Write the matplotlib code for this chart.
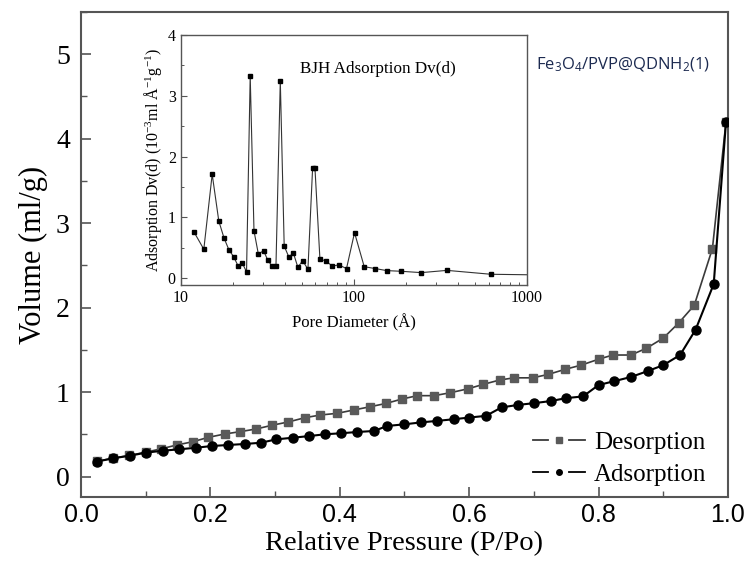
import numpy as np
import matplotlib
matplotlib.use("Agg")
import matplotlib.pyplot as plt
from matplotlib.lines import Line2D
from matplotlib.legend_handler import HandlerBase
from matplotlib.ticker import MultipleLocator, LogLocator, NullFormatter, FixedLocator

# isotherm data (relative pressure, volume ml/g)
ads_p = [0.024, 0.050, 0.076, 0.100, 0.127, 0.152, 0.178, 0.202, 0.227, 0.253,
         0.278, 0.302, 0.327, 0.353, 0.377, 0.402, 0.427, 0.453, 0.473, 0.500,
         0.526, 0.550, 0.576, 0.600, 0.626, 0.650, 0.676, 0.700, 0.726, 0.750,
         0.776, 0.800, 0.824, 0.850, 0.876, 0.900, 0.926, 0.950, 0.978, 0.997]
ads_v = [0.178, 0.218, 0.249, 0.284, 0.308, 0.324, 0.343, 0.363, 0.375, 0.387,
         0.402, 0.442, 0.461, 0.481, 0.502, 0.514, 0.529, 0.541, 0.600, 0.620,
         0.643, 0.660, 0.680, 0.700, 0.720, 0.820, 0.850, 0.870, 0.895, 0.930,
         0.950, 1.085, 1.130, 1.180, 1.250, 1.320, 1.440, 1.740, 2.280, 4.200]

des_p = [0.024, 0.050, 0.075, 0.100, 0.124, 0.148, 0.173, 0.197, 0.222, 0.246,
         0.271, 0.296, 0.320, 0.346, 0.370, 0.396, 0.422, 0.447, 0.472, 0.496,
         0.520, 0.546, 0.571, 0.598, 0.622, 0.647, 0.669, 0.698, 0.722, 0.748,
         0.773, 0.800, 0.822, 0.850, 0.874, 0.900, 0.924, 0.948, 0.976, 0.997]
des_v = [0.180, 0.220, 0.252, 0.290, 0.330, 0.375, 0.414, 0.466, 0.505, 0.533,
         0.565, 0.610, 0.647, 0.698, 0.730, 0.750, 0.790, 0.828, 0.868, 0.919,
         0.959, 0.959, 0.994, 1.040, 1.093, 1.144, 1.170, 1.170, 1.210, 1.270,
         1.320, 1.390, 1.440, 1.440, 1.520, 1.640, 1.820, 2.030, 2.700, 4.200]

# BJH pore size distribution
pore_d = [11.9, 13.6, 15.2, 16.6, 17.8, 19.0, 20.2, 21.4, 22.7, 24.0,
          25.2, 26.5, 28.1, 30.1, 31.8, 33.5, 35.5, 37.6, 39.6, 42.2,
          44.7, 47.5, 50.6, 54.3, 57.8, 59.6, 63.7, 68.7, 75.0, 81.9,
          90.7, 100.9, 114.8, 132.8, 155, 188, 245, 345, 619, 1000]
pore_dv = [0.767, 0.477, 1.71, 0.94, 0.66, 0.466, 0.356, 0.21, 0.25, 0.104,
           3.33, 0.78, 0.395, 0.455, 0.30, 0.21, 0.21, 3.25, 0.53, 0.345,
           0.42, 0.18, 0.29, 0.148, 1.82, 1.82, 0.31, 0.29, 0.20, 0.22,
           0.16, 0.75, 0.19, 0.16, 0.126, 0.115, 0.093, 0.13, 0.066, 0.058]

serif = "Liberation Serif"
sans = "Liberation Sans"
frame_col = "#555555"


# origin style legend key: line - marker - line with gaps
class GapHandler(HandlerBase):
    def create_artists(self, legend, orig, xd, yd, width, height, fontsize, trans):
        y = height / 2 - yd
        x0 = -xd
        seg = width * 0.3
        left = Line2D([x0, x0 + seg], [y, y], color=orig.get_color(), lw=1.3)
        right = Line2D([x0 + width - seg, x0 + width], [y, y], color=orig.get_color(), lw=1.3)
        mk = Line2D([x0 + width / 2], [y], marker=orig.get_marker(), ms=4,
                    mfc=orig.get_markerfacecolor(), mec=orig.get_markeredgecolor(), ls="none")
        for a in (left, right, mk):
            a.set_transform(trans)
        return [left, right, mk]


fig = plt.figure(figsize=(7.47, 5.67), dpi=100)
ax = fig.add_axes([0.1084, 0.1235, 0.8661, 0.8554])

l_des, = ax.plot(des_p, des_v, color="#3a3a3a", lw=1.2, marker="s", ms=5.5,
                 mfc="#5a5a5a", mec="#5a5a5a", label="Desorption", zorder=3)
l_ads, = ax.plot(ads_p, ads_v, color="black", lw=1.5, marker="o", ms=6.5,
                 mfc="black", mec="black", label="Adsorption", zorder=4)

ax.set_xlim(0, 1.0)
ax.set_ylim(-0.24, 5.5)
ax.xaxis.set_major_locator(MultipleLocator(0.2))
ax.xaxis.set_minor_locator(MultipleLocator(0.1))
ax.yaxis.set_major_locator(MultipleLocator(1))
ax.yaxis.set_minor_locator(MultipleLocator(0.5))
ax.tick_params(which="both", direction="in", top=False, right=False, color=frame_col)
ax.tick_params(which="major", length=7, width=1.2)
ax.tick_params(which="minor", length=4, width=1.0)
ax.tick_params(axis="x", which="major", pad=4)
for lab in ax.get_xticklabels():
    lab.set_family(sans)
    lab.set_fontsize(18)
for lab in ax.get_yticklabels():
    lab.set_family(serif)
    lab.set_fontsize(20)
ax.tick_params(axis="y", pad=8)
for sp in ax.spines.values():
    sp.set_color(frame_col)
    sp.set_linewidth(1.5)

ax.set_xlabel("Relative Pressure (P/Po)", family=serif, fontsize=20.5, labelpad=3)
ax.set_ylabel("Volume (ml/g)", family=serif, fontsize=22, labelpad=6)

leg = ax.legend(handles=[l_des, l_ads], loc="lower right", frameon=False,
                prop={"family": serif, "size": 18},
                handler_map={Line2D: GapHandler()},
                handlelength=2.1, handletextpad=0.36, labelspacing=0.38,
                borderaxespad=0.2, bbox_to_anchor=(0.99, -0.008))

fig.text(0.718, 0.885, r"Fe$\mathregular{_3}$O$\mathregular{_4}$/PVP@QDNH$\mathregular{_2}$(1)",
         family="Open Sans", fontsize=12, color="#1c2a50", ha="left", va="center")

# inset
ins = fig.add_axes([0.2419, 0.4974, 0.4636, 0.4409])
ins.plot(pore_d, pore_dv, color="#333333", lw=0.8, marker="s", ms=3,
         mfc="black", mec="black", markevery=list(range(len(pore_d) - 1)))
ins.set_xscale("log")
ins.set_xlim(10, 1000)
ins.set_ylim(-0.11, 4)
ins.yaxis.set_major_locator(MultipleLocator(1))
ins.yaxis.set_minor_locator(MultipleLocator(0.5))
ins.xaxis.set_major_locator(FixedLocator([10, 100, 1000]))
ins.xaxis.set_minor_locator(LogLocator(base=10, subs=np.arange(2, 10)))
ins.xaxis.set_minor_formatter(NullFormatter())
ins.set_xticklabels(["10", "100", "1000"])
ins.tick_params(which="both", direction="in", top=False, right=False, color=frame_col,
                labelsize=11.5)
ins.tick_params(which="major", length=4, width=0.8)
ins.tick_params(which="minor", length=2.5, width=0.7)
for lab in ins.get_xticklabels() + ins.get_yticklabels():
    lab.set_family(serif)
for sp in ins.spines.values():
    sp.set_color(frame_col)
    sp.set_linewidth(1.0)
ins.set_xlabel("Pore Diameter (Å)", family=serif, fontsize=12, labelpad=6)
ins.set_ylabel(r"Adsorption Dv(d) (10$\mathregular{^{-3}}$ml Å$\mathregular{^{-1}}$g$\mathregular{^{-1}}$)",
               family=serif, fontsize=11.5, labelpad=3)
ins.text(0.57, 0.865, "BJH Adsorption Dv(d)", transform=ins.transAxes,
         family=serif, fontsize=12.3, ha="center", va="center")

fig.savefig("out.png", dpi=100)
